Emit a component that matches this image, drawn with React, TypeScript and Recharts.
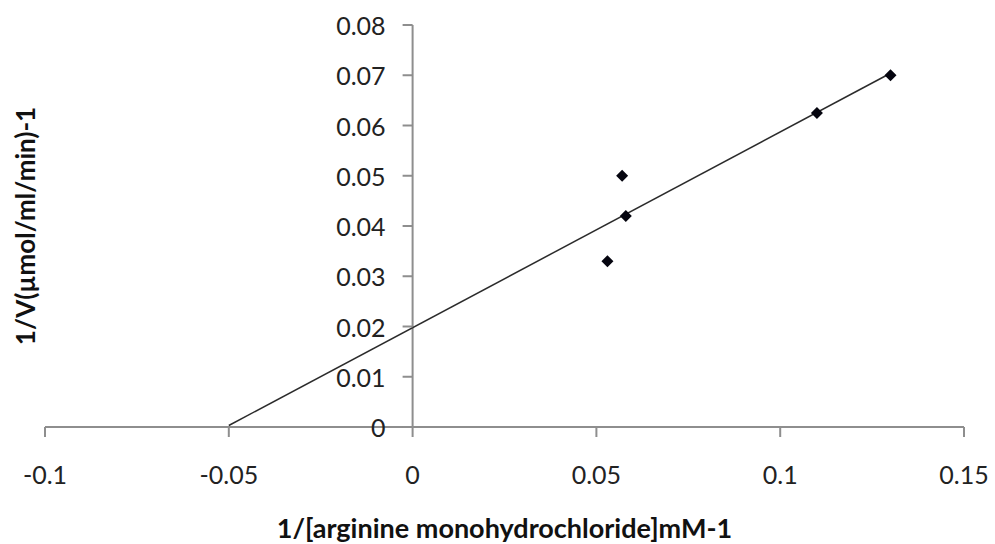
import React from "react"
import {
  ScatterChart,
  Scatter,
  XAxis,
  YAxis,
  ReferenceLine,
} from "recharts"

// measured points: 1/[S] (mM-1) against 1/V
const invSubstrate = [0.053, 0.057, 0.058, 0.11, 0.13]
const invVelocity = [0.033, 0.05, 0.042, 0.0625, 0.07]

// fitted line, drawn between its two end points
const trendX = [-0.05, 0.13]
const trendY = [0.0003, 0.0704]

const xTicks = [-0.1, -0.05, 0, 0.05, 0.1, 0.15]
const yTicks = [0, 0.01, 0.02, 0.03, 0.04, 0.05, 0.06, 0.07, 0.08]

const points = invSubstrate.map((x, i) => ({ x, y: invVelocity[i] }))
const trend = trendX.map((x, i) => ({ x, y: trendY[i] }))

const W = 995
const H = 544
const M = { top: 25, right: 31, bottom: 0, left: 44 }
const Y_AXIS_W = 1
const X_DOMAIN: [number, number] = [-0.1, 0.15]
const FONT = "Lato, sans-serif"
const AXIS = "#8e8e8e"

// pixel position of x = 0, where the vertical axis crosses
const plotLeft = M.left + Y_AXIS_W
const plotW = W - plotLeft - M.right
const zeroX = plotLeft + ((0 - X_DOMAIN[0]) / (X_DOMAIN[1] - X_DOMAIN[0])) * plotW

const Diamond = (props: any) => {
  const { cx, cy } = props
  const r = 6
  return (
    <path
      d={`M${cx},${cy - r}L${cx + r},${cy}L${cx},${cy + r}L${cx - r},${cy}Z`}
      fill="#05050f"
    />
  )
}

const XTick = (props: any) => {
  const { x, payload } = props
  return (
    <text
      x={x}
      y={474}
      textAnchor="middle"
      dominantBaseline="central"
      fontFamily={FONT}
      fontSize={25}
      fill="#222"
    >
      {payload.value}
    </text>
  )
}

const YTick = (props: any) => {
  const { y, payload } = props
  return (
    <g>
      <line x1={zeroX - 10} x2={zeroX} y1={y} y2={y} stroke={AXIS} strokeWidth={2} />
      <text
        x={zeroX - 27}
        y={y}
        textAnchor="end"
        dominantBaseline="central"
        fontFamily={FONT}
        fontSize={25}
        fill="#222"
      >
        {payload.value}
      </text>
    </g>
  )
}

export default function App() {
  return (
    <div style={{ position: "absolute", left: 0, top: 0, width: W, height: H, background: "#fff" }}>
      <ScatterChart width={W} height={H} margin={M}>
        <XAxis
          type="number"
          dataKey="x"
          domain={X_DOMAIN}
          ticks={xTicks}
          height={117}
          axisLine={{ stroke: AXIS, strokeWidth: 2 }}
          tickLine={{ stroke: AXIS, strokeWidth: 2 }}
          tickSize={10}
          tick={<XTick />}
          label={{
            content: (p: any) => (
              <text
                x={p.viewBox.x + p.viewBox.width / 2}
                y={527}
                textAnchor="middle"
                dominantBaseline="central"
                fontFamily={FONT}
                fontWeight="bold"
                fontSize={27}
                fill="#111"
              >
                1/[arginine monohydrochloride]mM-1
              </text>
            ),
          }}
        />
        <YAxis
          type="number"
          dataKey="y"
          domain={[0, 0.08]}
          ticks={yTicks}
          width={Y_AXIS_W}
          axisLine={false}
          tickLine={false}
          tick={<YTick />}
          label={{
            content: (p: any) => {
              const cy = p.viewBox.y + p.viewBox.height / 2
              return (
                <text
                  x={25}
                  y={cy}
                  transform={`rotate(-90 25 ${cy})`}
                  textAnchor="middle"
                  dominantBaseline="central"
                  fontFamily={FONT}
                  fontWeight="bold"
                  fontSize={26}
                  fill="#111"
                >
                  1/V(µmol/ml/min)-1
                </text>
              )
            },
          }}
        />
        <ReferenceLine x={0} stroke={AXIS} strokeWidth={2} ifOverflow="extendDomain" />
        <Scatter
          data={trend}
          line={{ stroke: "#2b2b2b", strokeWidth: 1.5 }}
          shape={() => <g />}
          isAnimationActive={false}
        />
        <Scatter data={points} shape={<Diamond />} isAnimationActive={false} />
      </ScatterChart>
    </div>
  )
}
